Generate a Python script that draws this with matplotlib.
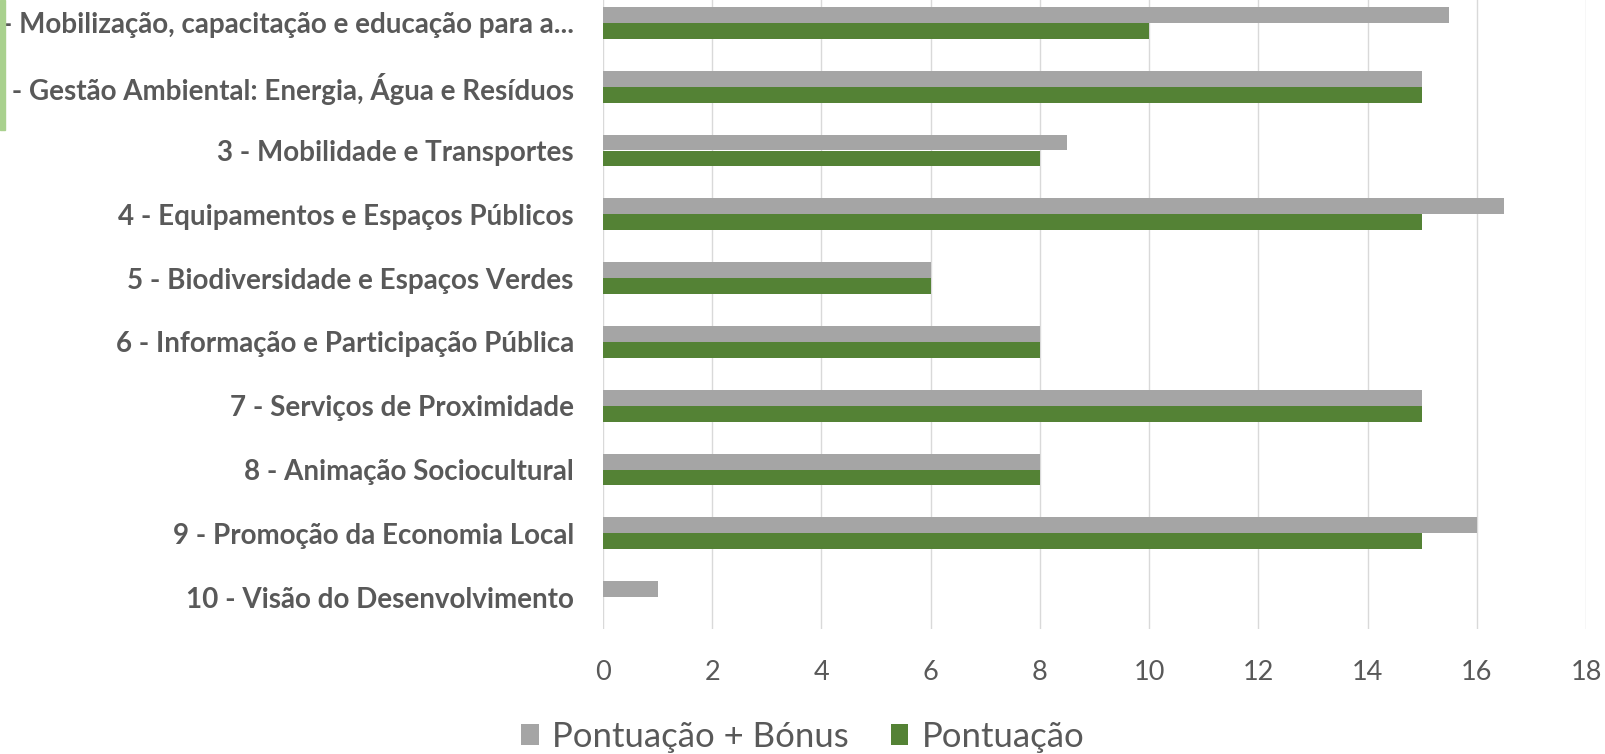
import numpy as np
import matplotlib.pyplot as plt
from matplotlib.patches import Rectangle

categories = [
    "1 - Mobilização, capacitação e educação para a...",
    "2 - Gestão Ambiental: Energia, Água e Resíduos",
    "3 - Mobilidade e Transportes",
    "4 - Equipamentos e Espaços Públicos",
    "5 - Biodiversidade e Espaços Verdes",
    "6 - Informação e Participação Pública",
    "7 - Serviços de Proximidade",
    "8 - Animação Sociocultural",
    "9 - Promoção da Economia Local",
    "10 - Visão do Desenvolvimento",
]
pontuacao_bonus = [15.5, 15, 8.5, 16.5, 6, 8, 15, 8, 16, 1]
pontuacao = [10, 15, 8, 15, 6, 8, 15, 8, 15, 0]
x_ticks = [0, 2, 4, 6, 8, 10, 12, 14, 16, 18]

plt.rcParams['font.family'] = ['Lato', 'DejaVu Sans']

fig = plt.figure(figsize=(16.06, 7.54), dpi=100)
ax = fig.add_axes([603 / 1606, 125 / 754, (1586 - 603) / 1606, 638 / 754])

y = np.arange(len(categories))
h = 0.25
ax.barh(y - h / 2, pontuacao_bonus, height=h, color='#A5A5A5', label='Pontuação + Bónus', zorder=3)
ax.barh(y + h / 2, pontuacao, height=h, color='#548235', label='Pontuação', zorder=3)

ax.set_ylim(len(categories) - 0.5, -0.5)
ax.set_xlim(0, 18)
ax.set_xticks(x_ticks)
ax.set_yticks(y)
ax.set_yticklabels(categories, fontsize=20, fontweight='bold', color='#595959')
ax.tick_params(axis='x', labelsize=19.5, labelcolor='#595959', length=0, pad=22)
ax.tick_params(axis='y', length=0, pad=21)
ax.grid(axis='x', color='#D9D9D9', linewidth=1, zorder=0)
for s in ax.spines.values():
    s.set_visible(False)

fig.legend(loc='lower center', bbox_to_anchor=(0.5, -0.04), ncol=2, frameon=False,
           fontsize=25, labelcolor='#595959', handlelength=0.5, handleheight=0.55,
           columnspacing=1.2, handletextpad=0.4)

# green strip at the left edge
fig.patches.append(Rectangle((0, 1 - 130 / 754), 5 / 1606, 130 / 754, transform=fig.transFigure,
                             color='#A9D18E', zorder=0))

fig.savefig('out.png', dpi=100)
